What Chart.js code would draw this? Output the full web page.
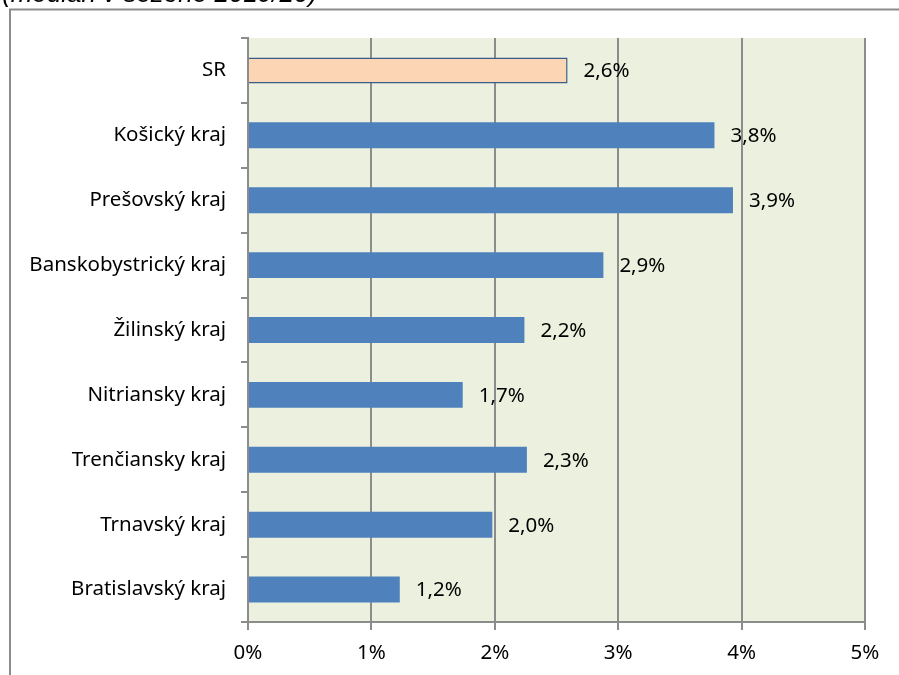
<!DOCTYPE html>
<html>
<head>
<meta charset="utf-8">
<script src="https://cdn.jsdelivr.net/npm/chart.js@4"></script>
<style>
  body { margin: 0; background: #fff; }
</style>
</head>
<body>
<canvas id="myChart" width="899" height="675"></canvas>
<script>
var regions = [
    'SR',
    'Košický kraj',
    'Prešovský kraj',
    'Banskobystrický kraj',
    'Žilinský kraj',
    'Nitriansky kraj',
    'Trenčiansky kraj',
    'Trnavský kraj',
    'Bratislavský kraj'
];
var shares = [2.59, 3.78, 3.93, 2.88, 2.24, 1.74, 2.26, 1.98, 1.23];
var xTicks = [0, 1, 2, 3, 4, 5];
var titleText = '(medián v sezóne 2019/20)';

var fontName = '"Noto Sans", "Open Sans", sans-serif';

var frame = {
    id: 'frame',
    beforeDraw: function (chart) {
        var ctx = chart.ctx;
        var a = chart.chartArea;
        ctx.save();
        ctx.fillStyle = '#fff';
        ctx.fillRect(0, 0, chart.width, chart.height);
        ctx.fillStyle = '#ebf1de';
        ctx.fillRect(a.left, a.top, a.right - a.left, a.bottom - a.top);
        // outer border
        ctx.strokeStyle = '#8c8c8c';
        ctx.lineWidth = 2;
        ctx.beginPath();
        ctx.moveTo(10, chart.height);
        ctx.lineTo(10, 9.5);
        ctx.lineTo(chart.width, 9.5);
        ctx.stroke();
        // cut-off title
        ctx.fillStyle = '#000';
        ctx.font = 'italic 26px "Liberation Sans", Arial, sans-serif';
        ctx.textBaseline = 'alphabetic';
        ctx.textAlign = 'left';
        ctx.fillText(titleText, 2, 2);
        ctx.restore();
    }
};

var valueLabels = {
    id: 'valueLabels',
    afterDatasetsDraw: function (chart) {
        var ctx = chart.ctx;
        var meta = chart.getDatasetMeta(0);
        ctx.save();
        ctx.fillStyle = '#000';
        ctx.font = '20.5px ' + fontName;
        ctx.textAlign = 'left';
        ctx.textBaseline = 'middle';
        meta.data.forEach(function (bar, i) {
            var txt = shares[i].toFixed(1).replace('.', ',') + '%';
            ctx.fillText(txt, bar.x + 16, bar.y + 1);
        });
        ctx.restore();
    }
};

function createChart() {
    var ctx = document.getElementById('myChart').getContext('2d');
    new Chart(ctx, {
        type: 'bar',
        data: {
            labels: regions,
            datasets: [{
                data: shares,
                backgroundColor: regions.map(function (r) { return r === 'SR' ? '#fcd5b5' : '#4f81bd'; }),
                borderColor: regions.map(function (r) { return r === 'SR' ? '#385d8a' : '#4f81bd'; }),
                borderWidth: regions.map(function (r) { return r === 'SR' ? 1.5 : 0; }),
                barPercentage: 0.4,
                categoryPercentage: 1
            }]
        },
        options: {
            indexAxis: 'y',
            responsive: false,
            animation: false,
            devicePixelRatio: 1,
            layout: { padding: { left: 0, top: 38, right: 34, bottom: 0 } },
            plugins: {
                legend: { display: false },
                tooltip: { enabled: false }
            },
            scales: {
                x: {
                    min: 0,
                    max: 5,
                    afterBuildTicks: function (scale) {
                        scale.ticks = xTicks.map(function (v) { return { value: v }; });
                    },
                    afterFit: function (scale) { scale.height = 53; },
                    grid: { color: '#8c8c8c', lineWidth: 2, tickLength: 8 },
                    border: { color: '#8c8c8c', width: 2 },
                    ticks: {
                        color: '#000',
                        padding: 11,
                        font: { family: fontName, size: 20.5 },
                        callback: function (v) { return v + '%'; }
                    }
                },
                y: {
                    afterFit: function (scale) { scale.width = 248; },
                    grid: { drawOnChartArea: false, color: '#8c8c8c', lineWidth: 2, tickLength: 7, offset: true },
                    border: { color: '#8c8c8c', width: 2 },
                    ticks: {
                        color: '#000',
                        padding: 15,
                        font: { family: fontName, size: 20.5 }
                    }
                }
            }
        },
        plugins: [frame, valueLabels]
    });
}
createChart();
</script>
</body>
</html>
